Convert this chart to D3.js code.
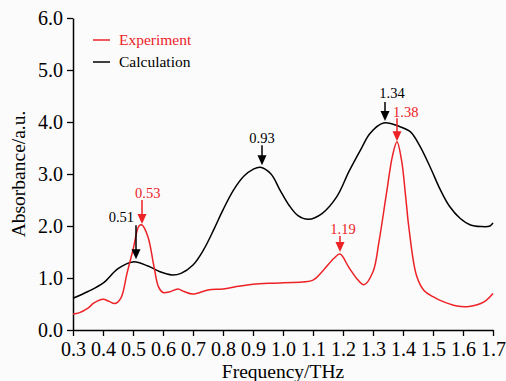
<!DOCTYPE html>
<html>
<head>
<meta charset="utf-8">
<script src="https://cdn.jsdelivr.net/npm/d3@7"></script>
<style>
  body { margin: 0; background: #fbfbfb; }
  svg, svg text { font-family: 'Liberation Serif', 'Times New Roman', serif; }
  svg { display: block; }
</style>
</head>
<body>
<svg id="chart" width="506" height="381"></svg>
<script>
// Calculation curve (black)
const calcFreq = [0.30, 0.35, 0.40, 0.45, 0.50, 0.55, 0.59, 0.63, 0.66, 0.70, 0.735, 0.77, 0.80, 0.835, 0.87,
    0.90, 0.925, 0.96, 0.99, 1.02, 1.05, 1.085, 1.13, 1.18, 1.22, 1.26, 1.29, 1.335, 1.39, 1.425, 1.455,
    1.49, 1.525, 1.555, 1.59, 1.625, 1.66, 1.69, 1.70];
const calcAbs = [0.61, 0.74, 0.90, 1.18, 1.31, 1.23, 1.12, 1.06, 1.09, 1.25, 1.54, 1.94, 2.31, 2.69, 2.96,
    3.09, 3.13, 3.00, 2.69, 2.40, 2.20, 2.13, 2.24, 2.57, 3.05, 3.48, 3.78, 3.98, 3.91, 3.81, 3.55,
    3.14, 2.69, 2.38, 2.15, 2.02, 1.99, 2.00, 2.06];

// Experiment curve (red)
const expFreq = [0.30, 0.32, 0.35, 0.37, 0.40, 0.42, 0.44, 0.46, 0.48, 0.50, 0.52, 0.53, 0.55, 0.57, 0.585,
    0.60, 0.62, 0.65, 0.67, 0.70, 0.75, 0.80, 0.85, 0.90, 1.00, 1.10, 1.13, 1.17, 1.19, 1.22, 1.25, 1.27,
    1.30, 1.32, 1.345, 1.365, 1.38, 1.395, 1.41, 1.42, 1.445, 1.47, 1.50, 1.52, 1.58, 1.62, 1.67, 1.70];
const expAbs = [0.31, 0.33, 0.42, 0.52, 0.59, 0.55, 0.51, 0.62, 1.09, 1.54, 2.00, 2.02, 1.79, 1.22, 0.83,
    0.72, 0.73, 0.79, 0.74, 0.69, 0.77, 0.79, 0.84, 0.88, 0.91, 0.96, 1.12, 1.38, 1.46, 1.20, 0.96, 0.87,
    1.12, 1.70, 2.63, 3.35, 3.62, 3.27, 2.50, 1.95, 1.05, 0.76, 0.64, 0.58, 0.46, 0.45, 0.54, 0.70];

const xTicks = [0.3, 0.4, 0.5, 0.6, 0.7, 0.8, 0.9, 1.0, 1.1, 1.2, 1.3, 1.4, 1.5, 1.6, 1.7];
const yTicks = [0, 1, 2, 3, 4, 5, 6];

// peak markers: frequency, value at arrow tip, label
const peakFreq = [0.51, 0.53, 0.93, 1.19, 1.34, 1.38];
const peakTip = [1.36, 2.04, 3.17, 1.50, 4.02, 3.63];
const peakLabel = ['0.51', '0.53', '0.93', '1.19', '1.34', '1.38'];
const peakSeries = ['calc', 'exp', 'calc', 'exp', 'calc', 'exp'];

const RED = '#ec2227';
const BLACK = '#000';
const FONT = "'Liberation Serif', 'Times New Roman', serif";

const svg = d3.select('#chart');
const margin = { left: 73, right: 13, top: 18, bottom: 51 };
const W = 506, H = 381;

const x = d3.scaleLinear().domain([0.3, 1.7]).range([margin.left, W - margin.right]);
const y = d3.scaleLinear().domain([0, 6]).range([H - margin.bottom, margin.top]);

// axes
const xAxis = svg.append('g')
    .attr('transform', 'translate(0,' + (H - margin.bottom) + ')')
    .call(d3.axisBottom(x).tickValues(xTicks).tickFormat(d3.format('.1f')).tickSize(6).tickSizeOuter(0).tickPadding(6));
const yAxis = svg.append('g')
    .attr('transform', 'translate(' + margin.left + ',0)')
    .call(d3.axisLeft(y).tickValues(yTicks).tickFormat(d3.format('.1f')).tickSize(6).tickSizeOuter(0).tickPadding(4));

[xAxis, yAxis].forEach(a => {
    a.attr('font-family', FONT).attr('font-size', 20);
    a.select('.domain').attr('stroke', '#000').attr('stroke-width', 1.5);
    a.selectAll('.tick line').attr('stroke', '#000').attr('stroke-width', 1.3);
    a.selectAll('.tick text').attr('fill', '#000');
});

svg.append('text')
    .attr('x', (x(0.3) + x(1.7)) / 2)
    .attr('y', 378)
    .attr('text-anchor', 'middle')
    .attr('font-size', 19.5)
    .text('Frequency/THz');

svg.append('text')
    .attr('transform', 'translate(25,' + y(3) + ') rotate(-90)')
    .attr('text-anchor', 'middle')
    .attr('font-size', 19.5)
    .text('Absorbance/a.u.');

// curves
const line = d3.line()
    .x(d => x(d[0]))
    .y(d => y(d[1]))
    .curve(d3.curveCatmullRom.alpha(0.5));

svg.append('path')
    .datum(calcFreq.map((f, i) => [f, calcAbs[i]]))
    .attr('fill', 'none')
    .attr('stroke', BLACK)
    .attr('stroke-width', 1.5)
    .attr('d', line);

svg.append('path')
    .datum(expFreq.map((f, i) => [f, expAbs[i]]))
    .attr('fill', 'none')
    .attr('stroke', RED)
    .attr('stroke-width', 1.5)
    .attr('d', line);

// arrows + labels
const arrowLen = [34, 24, 20, 16, 19, 23];
const labelAnchor = ['end', 'start', 'middle', 'middle', 'middle', 'start'];
const labelDx = [-2, -7, 0, 3, 7, -4];
const labelDy = [-3, -2, -2, -2, -4, -1];

peakFreq.forEach((f, i) => {
    const col = peakSeries[i] === 'exp' ? RED : BLACK;
    const px = x(f);
    const tip = y(peakTip[i]);
    const top = tip - arrowLen[i];
    svg.append('line')
        .attr('x1', px).attr('x2', px)
        .attr('y1', top).attr('y2', tip - 6)
        .attr('stroke', col).attr('stroke-width', 1.5);
    svg.append('path')
        .attr('d', `M${px - 4.5},${tip - 10} L${px + 4.5},${tip - 10} L${px},${tip} Z`)
        .attr('fill', col);
    svg.append('text')
        .attr('x', px + labelDx[i])
        .attr('y', top + labelDy[i])
        .attr('text-anchor', labelAnchor[i])
        .attr('fill', col)
        .attr('font-size', 14.5)
        .text(peakLabel[i]);
});

// legend
const legend = [['Experiment', RED], ['Calculation', BLACK]];
legend.forEach((d, i) => {
    const ly = 40 + i * 22;
    svg.append('line')
        .attr('x1', 93).attr('x2', 110)
        .attr('y1', ly).attr('y2', ly)
        .attr('stroke', d[1]).attr('stroke-width', 1.5);
    svg.append('text')
        .attr('x', 119).attr('y', ly + 5)
        .attr('fill', d[1])
        .attr('font-size', 15.5)
        .text(d[0]);
});
</script>
</body>
</html>
